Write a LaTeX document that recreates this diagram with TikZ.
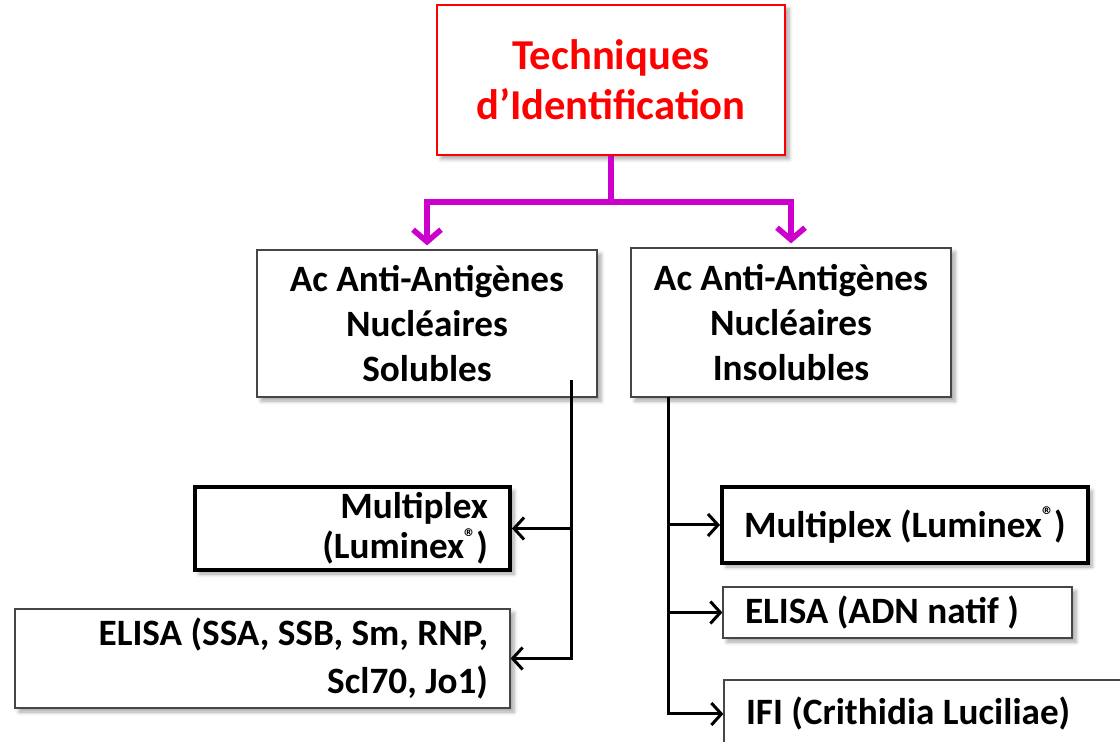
\documentclass[tikz,border=0pt]{standalone}
\usepackage{fontspec}
\setmainfont{Carlito}
\usetikzlibrary{arrows.meta,shadows.blur}

\definecolor{titlered}{RGB}{255,0,0}
\definecolor{linkmag}{RGB}{204,0,204}
\definecolor{boxgray}{RGB}{70,70,70}

\newcommand{\regmark}{\raisebox{0.75ex}{\fontsize{12}{12}\selectfont ®}}

\tikzset{
  box/.style={draw=boxgray, line width=0.6pt, fill=white, inner xsep=11pt, inner ysep=0pt,
    font=\bfseries\fontsize{18.6}{22.5}\selectfont,
    blur shadow={shadow xshift=2pt, shadow yshift=-2pt, shadow blur steps=6, shadow opacity=35}},
  thickbox/.style={box, draw=black, line width=2pt},
  link/.style={draw=black, line width=1.5pt, >={Straight Barb[length=5pt,width=11pt,line width=1.5pt]}},
  split/.style={draw=linkmag, line width=2.8pt, >={Straight Barb[length=6pt,width=14pt,line width=2.8pt]}}
}

\begin{document}
\begin{tikzpicture}[x=0.5pt,y=-0.5pt]
\useasboundingbox (0,0) rectangle (1120,742);

% Top box
\node[box, draw=titlered, text=titlered, align=flush center, minimum width=174pt, minimum height=75pt,
  font=\bfseries\fontsize{21.3}{25}\selectfont] (title) at (611,80) {Techniques\\d'Identification};

% Second level
\node[box, align=flush center, minimum width=170pt, minimum height=73.5pt] (lac) at (427,323.5)
  {Ac Anti-Antigènes\\Nucléaires\\Solubles};
\node[box, align=flush center, minimum width=160pt, minimum height=74.5pt] (rac) at (791,322.5)
  {Ac Anti-Antigènes\\Nucléaires\\Insolubles};

% Soluble side
\node[thickbox, align=flush right, text width=135.5pt, minimum height=41.5pt,
  font=\bfseries\fontsize{18.6}{20}\selectfont] (lmpl) at (352.5,528.5)
  {Multiplex\\(Luminex\regmark)};
\node[box, align=flush right, text width=225.5pt, minimum height=49.5pt,
  font=\bfseries\fontsize{18.6}{24}\selectfont] (lelisa) at (262.5,658.5)
  {ELISA (SSA, SSB, Sm, RNP,\\Scl70, Jo1)};

% Insoluble side
\node[thickbox, align=flush left, text width=161pt, minimum height=38pt] (rmpl) at (905,525)
  {\mbox{Multiplex (Luminex\regmark)}};
\node[box, align=flush left, text width=152.5pt, minimum height=25.5pt] (relisa) at (897.5,612.5)
  {ELISA (ADN natif )};
\node[box, align=flush left, text width=181pt, minimum height=34pt] (rifi) at (927,714)
  {IFI (Crithidia Luciliae)};

% Magenta split
\coordinate (fork) at (611,202);
\draw[split] (title.south) -- (fork);
\draw[split,->] (fork) -| ([yshift=2pt]lac.north);
\draw[split,->] (fork) -| ([yshift=2pt]rac.north);

% Black connectors
\coordinate (ltop) at (571,380);
\coordinate (rtop) at (668,397);
\draw[link,->] (ltop) |- (lelisa.east);
\draw[link,->] (ltop |- lmpl.east) -- (lmpl.east);
\draw[link,->] (rtop) |- (rifi.west);
\draw[link,->] (rtop |- rmpl.west) -- (rmpl.west);
\draw[link,->] (rtop |- relisa.west) -- (relisa.west);
\end{tikzpicture}
\end{document}
